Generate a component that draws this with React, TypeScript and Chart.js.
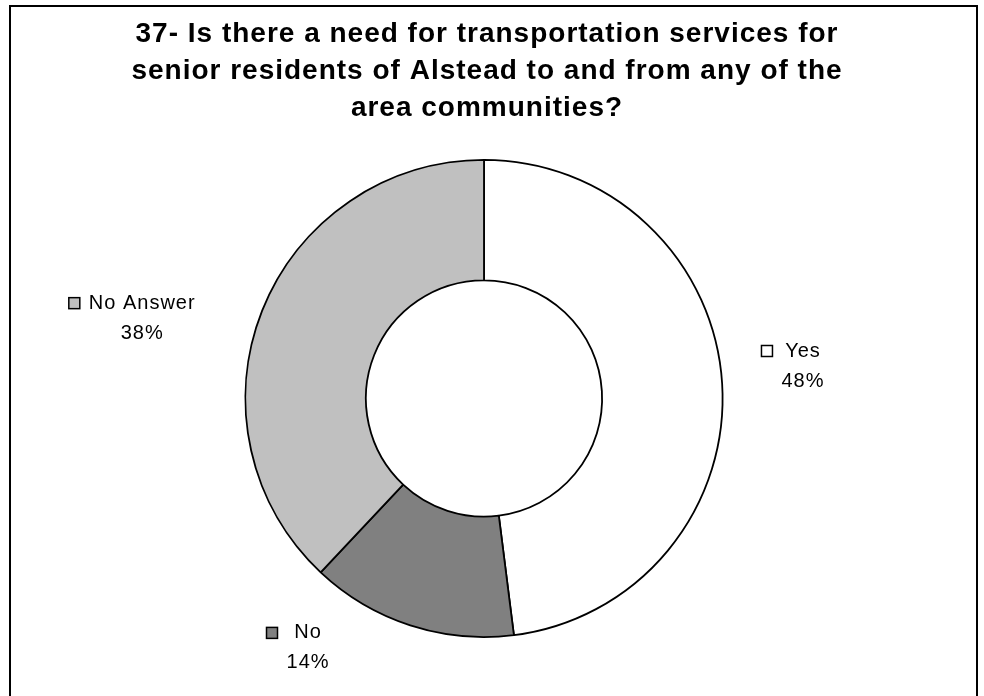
import React, { useEffect, useRef } from "react";
import { Chart, registerables } from "chart.js";

Chart.register(...registerables);

const TITLE_LINES = [
  "37- Is there a need for transportation services for",
  "senior residents of Alstead to and from any of the",
  "area communities?",
];
const CATEGORIES = ["Yes", "No", "No Answer"];
const VALUES = [48, 14, 38];
const COLORS = ["#FFFFFF", "#808080", "#C0C0C0"];

// label placement tweaks relative to the radial anchor (styling only)
const LABEL_NUDGE: [number, number][] = [
  [9, -13],
  [-80, -46],
  [-53, 34],
];

const framePlugin = {
  id: "frameAndTitle",
  beforeDraw(chart: any) {
    const ctx = chart.ctx;
    ctx.save();
    ctx.fillStyle = "#FFFFFF";
    ctx.fillRect(0, 0, chart.width, chart.height);
    ctx.strokeStyle = "#000000";
    ctx.lineWidth = 2;
    ctx.strokeRect(10, 6, 967, 720);
    ctx.fillStyle = "#000000";
    ctx.font = "bold 28px 'Liberation Sans', Arial, sans-serif";
    (ctx as any).letterSpacing = "1px";
    ctx.textAlign = "center";
    ctx.textBaseline = "alphabetic";
    const baselines = [42, 79, 116];
    TITLE_LINES.forEach((t, i) => ctx.fillText(t, 487, baselines[i]));
    ctx.restore();
  },
};

const labelPlugin = {
  id: "sliceLabels",
  afterDatasetsDraw(chart: any) {
    const ctx = chart.ctx;
    const meta = chart.getDatasetMeta(0);
    const data = chart.data.datasets[0].data as number[];
    const total = data.reduce((a, b) => a + b, 0);
    ctx.save();
    ctx.font = "20px 'Liberation Sans', Arial, sans-serif";
    (ctx as any).letterSpacing = "1px";
    ctx.textBaseline = "middle";
    ctx.textAlign = "center";
    meta.data.forEach((arc: any, i: number) => {
      const p = arc.getProps(["x", "y", "startAngle", "endAngle", "outerRadius"], true);
      const mid = (p.startAngle + p.endAngle) / 2;
      const r = p.outerRadius + 72;
      const ax = p.x + Math.cos(mid) * r + LABEL_NUDGE[i][0];
      const ay = p.y + Math.sin(mid) * r + LABEL_NUDGE[i][1];
      const l1 = chart.data.labels[i];
      const l2 = Math.round((data[i] / total) * 100) + "%";
      const w = Math.max(ctx.measureText(l1).width, ctx.measureText(l2).width);
      const y1 = ay - 15;
      const y2 = ay + 15;
      ctx.fillStyle = "#000000";
      ctx.fillText(l1, ax, y1);
      ctx.fillText(l2, ax, y2);
      const left = ax - w / 2;
      const ks = 11;
      const kx = left - 9 - ks;
      const ky = y1 - ks / 2;
      ctx.fillStyle = COLORS[i];
      ctx.fillRect(kx, ky, ks, ks);
      ctx.strokeStyle = "#000000";
      ctx.lineWidth = 1.5;
      ctx.strokeRect(kx, ky, ks, ks);
    });
    ctx.restore();
  },
};

export default function App() {
  const ref = useRef<HTMLCanvasElement | null>(null);
  useEffect(() => {
    if (!ref.current) return;
    const chart = new Chart(ref.current, {
      type: "doughnut",
      data: {
        labels: CATEGORIES,
        datasets: [
          {
            data: VALUES,
            backgroundColor: COLORS,
            borderColor: "#000000",
            borderWidth: 1.8,
          },
        ],
      },
      options: {
        responsive: false,
        maintainAspectRatio: false,
        animation: false,
        cutout: "49.5%",
        layout: { padding: { top: 159, bottom: 58, left: 100, right: 116 } },
        plugins: {
          legend: { display: false },
          tooltip: { enabled: false },
          title: { display: false },
        },
      },
      plugins: [framePlugin, labelPlugin],
    });
    return () => chart.destroy();
  }, []);
  return (
    <div style={{ position: "absolute", left: 0, top: 0, width: 984, height: 696 }}>
      <canvas ref={ref} width={984} height={696} />
    </div>
  );
}
